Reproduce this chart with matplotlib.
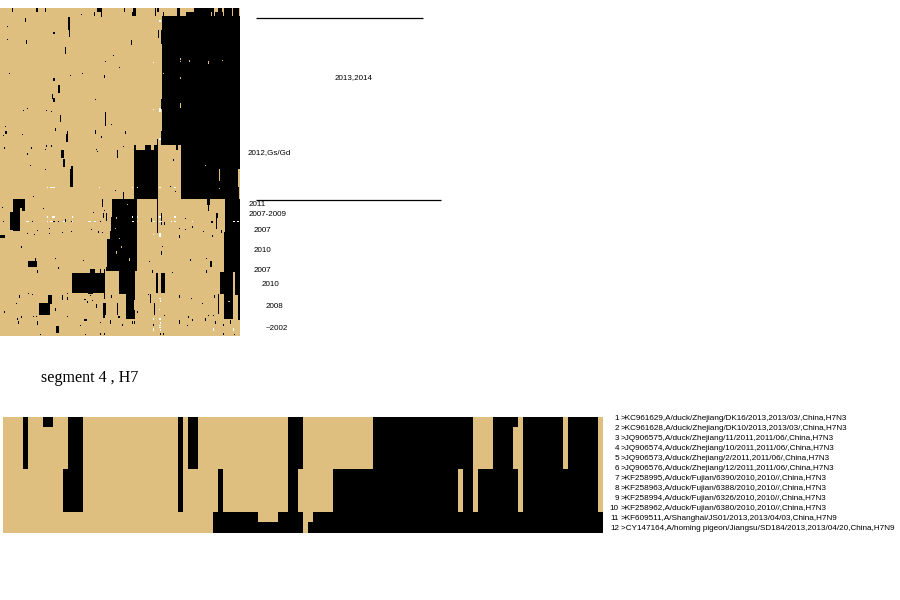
import numpy as np
import matplotlib
matplotlib.use('Agg')
import matplotlib.pyplot as plt
from matplotlib.colors import ListedColormap

TAN = '#dfbf80'

# --- segment 4 alignment (bottom), 11 sequence rows x 120 sites
# black runs per group of rows: (first col, last col)
H7_GROUP_ROWS = [1, 4, 4, 1, 1]
H7_BLACK = [
    [(4, 4), (8, 9), (13, 15), (35, 35), (37, 38), (57, 59), (74, 93), (98, 102), (104, 111), (113, 118)],
    [(4, 4), (13, 15), (35, 35), (37, 38), (57, 59), (74, 93), (98, 101), (104, 111), (113, 118)],
    [(12, 15), (35, 35), (43, 43), (57, 58), (66, 90), (92, 93), (95, 102), (104, 118)],
    [(42, 50), (55, 59), (62, 119)],
    [(42, 59), (61, 119)],
]
H7_NUMBERS = [str(i) for i in range(1, 13)]
H7_NAMES = [
    '>KC961629,A/duck/Zhejiang/DK16/2013,2013/03/,China,H7N3',
    '>KC961628,A/duck/Zhejiang/DK10/2013,2013/03/,China,H7N3',
    '>JQ906575,A/duck/Zhejiang/11/2011,2011/06/,China,H7N3',
    '>JQ906574,A/duck/Zhejiang/10/2011,2011/06/,China,H7N3',
    '>JQ906573,A/duck/Zhejiang/2/2011,2011/06/,China,H7N3',
    '>JQ906576,A/duck/Zhejiang/12/2011,2011/06/,China,H7N3',
    '>KF258995,A/duck/Fujian/6390/2010,2010//,China,H7N3',
    '>KF258963,A/duck/Fujian/6388/2010,2010//,China,H7N3',
    '>KF258994,A/duck/Fujian/6326/2010,2010//,China,H7N3',
    '>KF258962,A/duck/Fujian/6380/2010,2010//,China,H7N3',
    '>KF609511,A/Shanghai/JS01/2013,2013/04/03,China,H7N9',
    '>CY147164,A/homing pigeon/Jiangsu/SD184/2013,2013/04/20,China,H7N9',
]

# --- big alignment (top), cells: (row0, row1, col0, col1)
ROW_OFFSET = 8
BIG_BLACK = [
    # clades
    (17, 146, 162, 240), (146, 199, 181, 240), (151, 199, 134, 158), (146, 151, 134, 136),
    (146, 151, 145, 151), (146, 151, 154, 158), (13, 17, 186, 214), (8, 13, 194, 214),
    (8, 13, 218, 222), (13, 17, 215, 223), (8, 17, 224, 232), (8, 17, 233, 239),
    (199, 217, 112, 137), (217, 232, 111, 137), (232, 239, 110, 137), (239, 267, 107, 137),
    (267, 271, 106, 137), (271, 294, 119, 135), (294, 319, 126, 135),
    (199, 232, 225, 240), (232, 272, 224, 240), (272, 294, 220, 233), (272, 295, 235, 240),
    (294, 319, 224, 233), (273, 293, 72, 105), (261, 267, 28, 37), (303, 315, 39, 50),
    (295, 304, 48, 52), (199, 208, 13, 25), (199, 231, 13, 20), (212, 230, 10, 20),
    (208, 211, 22, 25), (235, 238, 0, 5), (326, 333, 56, 59), (261, 267, 210, 212),
    (273, 293, 156, 158), (273, 293, 161, 165), (213, 218, 216, 218), (218, 229, 216, 217),
    (199, 205, 207, 210), (205, 211, 208, 209), (170, 187, 70, 73),
    # upper part
    (8, 13, 12, 13), (8, 13, 36, 38), (9, 13, 45, 46), (8, 9, 49, 50), (8, 13, 97, 102),
    (13, 18, 101, 102), (13, 17, 94, 95), (8, 9, 119, 120), (8, 13, 124, 125), (8, 9, 128, 130),
    (8, 17, 133, 136), (13, 17, 132, 136), (8, 17, 155, 156), (8, 13, 157, 159), (13, 17, 163, 164),
    (8, 17, 177, 180), (19, 23, 25, 26), (18, 31, 68, 70), (31, 38, 69, 70), (15, 16, 81, 82),
    (27, 28, 7, 8), (33, 35, 53, 55), (40, 41, 7, 8), (41, 45, 26, 27), (48, 55, 65, 66),
    (41, 46, 131, 132), (31, 39, 158, 159), (31, 45, 161, 162), (56, 57, 113, 114), (62, 63, 105, 106),
    (68, 69, 119, 120), (74, 75, 9, 10), (76, 77, 70, 71), (74, 75, 82, 83), (76, 79, 104, 105),
    (79, 82, 53, 55), (86, 94, 58, 60), (95, 100, 52, 53), (99, 103, 53, 55), (100, 101, 95, 96),
    (111, 112, 23, 24), (109, 110, 27, 28), (111, 112, 46, 47), (112, 113, 51, 52),
    (116, 123, 60, 61), (113, 127, 105, 106), (125, 126, 111, 112), (129, 132, 55, 56),
    (132, 135, 67, 68), (135, 143, 66, 68), (131, 135, 95, 96), (137, 139, 101, 102),
    (132, 135, 125, 126), (127, 128, 5, 6), (132, 135, 5, 7), (136, 137, 3, 4), (135, 136, 22, 23),
    (148, 150, 4, 5), (148, 150, 31, 32), (154, 156, 27, 28), (146, 148, 46, 47), (146, 148, 51, 52),
    (150, 151, 45, 46), (147, 148, 123, 124), (150, 151, 96, 97), (152, 153, 97, 98),
    (151, 159, 61, 64), (160, 168, 63, 65), (151, 159, 117, 118), (166, 167, 30, 31),
    (160, 162, 173, 174), (167, 170, 71, 73), (146, 151, 176, 178), (140, 146, 157, 158),
    (100, 110, 161, 162), (132, 146, 161, 162),
    # lower part
    (170, 171, 45, 46), (190, 191, 115, 116), (191, 192, 155, 156), (186, 187, 170, 171),
    (191, 192, 175, 176), (196, 197, 33, 34), (192, 199, 123, 124), (207, 208, 2, 3), (208, 209, 43, 44),
    (199, 207, 102, 103), (199, 233, 157, 158), (210, 211, 104, 105), (212, 213, 93, 94),
    (213, 218, 103, 104), (213, 221, 106, 107), (221, 222, 3, 4), (221, 222, 32, 33),
    (221, 222, 47, 48), (221, 222, 53, 55), (221, 222, 58, 59), (219, 222, 65, 66), (221, 222, 71, 72),
    (221, 222, 100, 101), (218, 222, 151, 152), (213, 225, 161, 162), (222, 225, 164, 165),
    (218, 219, 185, 186), (221, 223, 211, 213), (228, 229, 49, 50), (230, 231, 37, 38),
    (229, 230, 91, 92), (228, 229, 179, 180), (229, 230, 185, 186), (226, 228, 192, 193),
    (231, 232, 203, 204), (230, 233, 221, 222), (232, 233, 62, 63), (231, 232, 71, 72),
    (233, 234, 49, 50), (233, 234, 27, 28), (234, 235, 34, 35), (231, 233, 98, 99), (232, 233, 102, 103),
    (231, 239, 110, 111), (235, 238, 179, 180), (235, 237, 212, 213), (246, 248, 21, 22),
    (246, 247, 162, 163), (251, 255, 161, 162), (258, 259, 55, 56), (260, 261, 83, 84),
    (267, 269, 58, 59), (258, 261, 35, 36), (270, 273, 37, 38), (261, 262, 149, 150),
    (259, 261, 190, 191), (258, 259, 206, 207), (270, 273, 206, 207), (272, 273, 172, 173),
    (270, 273, 152, 153), (269, 273, 100, 101), (269, 273, 104, 105), (270, 271, 112, 113),
    (269, 273, 90, 95), (267, 270, 130, 131), (293, 294, 88, 93), (293, 294, 28, 29),
    (295, 298, 19, 20), (294, 295, 32, 33), (293, 294, 67, 68), (295, 300, 62, 63), (297, 300, 67, 68),
    (295, 296, 90, 91), (293, 299, 104, 105), (295, 298, 111, 112), (294, 295, 148, 149),
    (294, 303, 150, 151), (295, 298, 179, 180), (298, 299, 191, 192), (295, 298, 214, 215),
    (294, 314, 218, 219), (294, 298, 229, 231), (295, 320, 238, 240), (303, 304, 16, 17),
    (303, 304, 202, 203), (299, 300, 84, 86), (301, 303, 87, 88), (300, 301, 92, 93),
    (304, 308, 96, 97), (303, 315, 103, 106), (303, 315, 117, 118), (303, 315, 154, 155),
    (311, 313, 137, 138), (308, 311, 55, 56), (311, 313, 4, 5), (316, 317, 67, 68), (315, 318, 103, 105),
    (316, 318, 118, 120), (316, 317, 33, 34), (316, 317, 36, 37), (316, 318, 21, 22), (318, 320, 17, 18),
    (321, 324, 18, 19), (321, 325, 37, 38), (319, 321, 84, 87), (325, 326, 80, 81), (322, 323, 100, 101),
    (320, 324, 110, 111), (324, 326, 122, 123), (321, 324, 132, 133), (321, 324, 134, 135),
    (320, 324, 179, 180), (316, 318, 188, 189), (319, 321, 192, 193), (325, 326, 187, 188),
    (318, 321, 205, 206), (315, 316, 208, 209), (315, 316, 213, 214), (321, 324, 215, 216),
    (320, 324, 230, 231), (324, 326, 223, 224), (334, 335, 40, 41), (334, 335, 85, 86),
    (333, 335, 100, 101), (333, 335, 104, 105), (333, 335, 160, 161), (333, 335, 163, 164),
    (333, 335, 223, 224), (334, 335, 234, 235), (324, 326, 153, 154), (315, 316, 164, 165),
]
BIG_TAN = [
    (59, 61, 180, 181), (61, 63, 189, 190), (62, 65, 208, 209), (61, 62, 222, 223), (78, 80, 180, 181),
    (104, 109, 180, 181), (62, 63, 180, 181), (74, 75, 163, 164), (166, 167, 205, 206),
    (170, 181, 219, 220), (170, 187, 238, 240), (188, 189, 219, 220), (187, 199, 239, 240),
    (217, 219, 116, 117), (204, 205, 127, 128), (228, 229, 115, 116), (238, 239, 119, 120),
    (246, 248, 121, 122), (251, 254, 116, 117), (258, 261, 129, 130), (300, 310, 134, 135),
    (301, 302, 228, 230), (13, 17, 211, 212),
]
BIG_WHITE = [
    (21, 23, 159, 161), (63, 64, 153, 154), (110, 111, 153, 154), (109, 113, 159, 161), (139, 141, 159, 161),
    (187, 188, 47, 48), (187, 188, 50, 55), (187, 188, 99, 100), (187, 188, 132, 133), (187, 188, 137, 138),
    (187, 188, 159, 161), (187, 188, 174, 176), (221, 222, 26, 29), (221, 222, 47, 48), (221, 222, 50, 53),
    (221, 222, 63, 65), (221, 222, 72, 73), (221, 222, 88, 91), (221, 222, 94, 96), (221, 222, 132, 134),
    (221, 222, 137, 138), (221, 222, 153, 155), (221, 222, 159, 162), (221, 222, 171, 172),
    (221, 222, 174, 176), (221, 222, 192, 193), (221, 222, 233, 235), (221, 222, 237, 239),
    (216, 218, 47, 48), (216, 218, 52, 55), (216, 218, 72, 73), (216, 218, 132, 133), (216, 218, 137, 138),
    (216, 218, 159, 161), (216, 218, 174, 176), (233, 237, 159, 161), (234, 235, 153, 154),
    (298, 299, 159, 161), (300, 302, 160, 161), (309, 310, 159, 160), (318, 320, 159, 161),
    (318, 320, 153, 154), (325, 326, 159, 161), (322, 324, 160, 161), (328, 331, 153, 154),
    (327, 328, 159, 161), (329, 331, 160, 161), (328, 331, 213, 214), (328, 331, 233, 234),
]

# year labels next to the big alignment
YEAR_LABELS = ['2013,2014', '2012,Gs/Gd', '2011', '2007-2009', '2007', '2010', '2007', '2010', '2008', '~2002']
YEAR_X = [335, 248, 249, 249, 254, 254, 254, 262, 266, 266]
YEAR_Y = [78, 153, 204, 214, 230, 251, 271, 284, 306, 328]

# state codes: 0 = tan, 1 = black, 2 = white
cmap = ListedColormap([TAN, 'black', 'white'])

big = np.zeros((328, 240), dtype=int)
for r0, r1, c0, c1 in BIG_BLACK:
    big[r0 - ROW_OFFSET:r1 - ROW_OFFSET, c0:c1] = 1
for r0, r1, c0, c1 in BIG_TAN:
    big[r0 - ROW_OFFSET:r1 - ROW_OFFSET, c0:c1] = 0
for r0, r1, c0, c1 in BIG_WHITE:
    big[r0 - ROW_OFFSET:r1 - ROW_OFFSET, c0:c1] = 2

small_rows = []
for n_rows, runs in zip(H7_GROUP_ROWS, H7_BLACK):
    row = np.zeros(120, dtype=int)
    for c0, c1 in runs:
        row[c0:c1 + 1] = 1
    for i in range(n_rows):
        small_rows.append(row)
small = np.array(small_rows)

fig = plt.figure(figsize=(9, 6), dpi=100, facecolor='white')

ax_big = fig.add_axes([0, 1 - 336 / 600, 240 / 900, 328 / 600])
ax_big.imshow(big, cmap=cmap, vmin=0, vmax=2, aspect='auto', interpolation='nearest')
ax_big.axis('off')

ax_small = fig.add_axes([3 / 900, 1 - 533 / 600, 600 / 900, 116 / 600])
ax_small.imshow(small, cmap=cmap, vmin=0, vmax=2, aspect='auto', interpolation='nearest')
ax_small.axis('off')

# overlay in picture pixels for the labels
ax = fig.add_axes([0, 0, 1, 1], facecolor='none')
ax.set_xlim(0, 900)
ax.set_ylim(600, 0)
ax.axis('off')

ax.plot([256, 423], [17.5, 17.5], color='black', lw=0.9, solid_capstyle='butt')
ax.plot([256, 441], [199.5, 199.5], color='black', lw=0.9, solid_capstyle='butt')

for txt, x, y in zip(YEAR_LABELS, YEAR_X, YEAR_Y):
    ax.text(x, y, txt, fontsize=5.8, family='Liberation Sans', va='center', ha='left')

ax.text(41, 378, 'segment 4 , H7', fontsize=11.6, family='Liberation Serif', va='center', ha='left')

name_y = [419, 428, 438, 448, 458, 468, 479, 488, 498, 508, 518, 528]
for num, name, y in zip(H7_NUMBERS, H7_NAMES, name_y):
    ax.text(619, y, num, fontsize=5.9, family='Liberation Sans', va='center', ha='right')
    ax.text(621, y, name, fontsize=5.9, family='Liberation Sans', va='center', ha='left')

fig.savefig('out.png', dpi=100)
